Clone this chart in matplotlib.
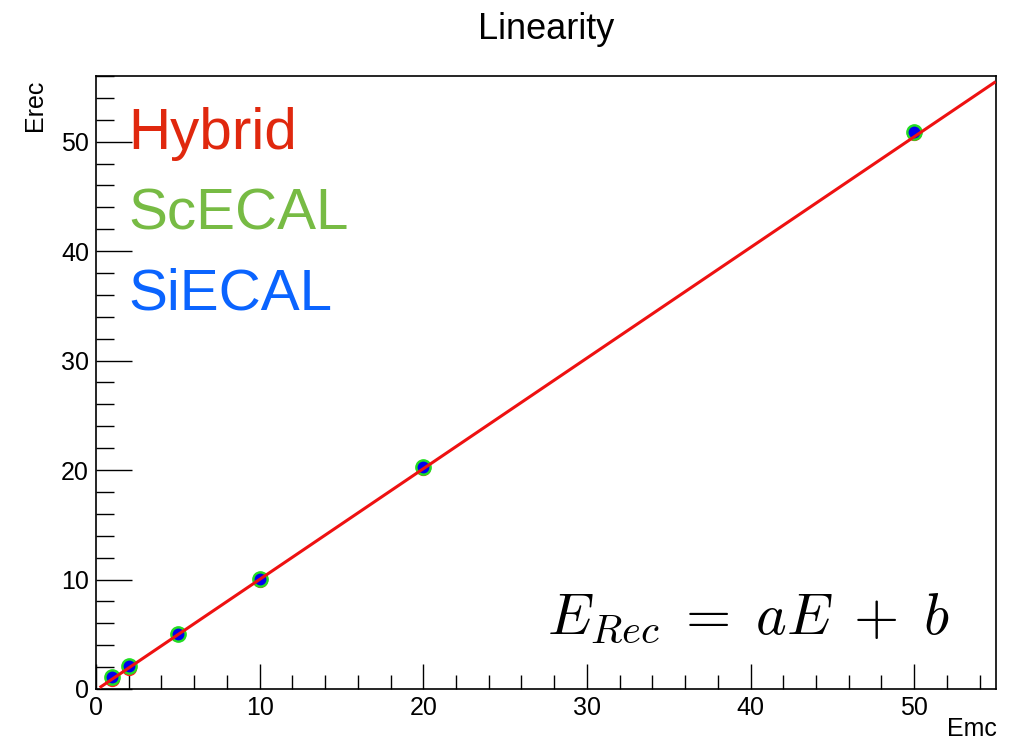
#
# linearity.py
# ------------
#

import numpy as np
import matplotlib
matplotlib.use("Agg")
import matplotlib.pyplot as plt
from matplotlib.ticker import MultipleLocator

emc = [1, 2, 5, 10, 20, 50]
erec_hybrid = [0.95, 1.95, 4.98, 10.0, 20.2, 50.8]
erec_scecal = [1.05, 2.1, 5.05, 10.05, 20.25, 50.85]
erec_siecal = [1.05, 2.08, 5.05, 10.05, 20.3, 50.9]

fit_a = 1.011
fit_b = -0.1
fit_range = [0.3, 54.9]

labels = ["Hybrid", "ScECAL", "SiECAL"]
colors = ["#e0280e", "#77bb44", "#0a64ff"]

plt.rcParams['font.family'] = ['Liberation Sans', 'DejaVu Sans']
plt.rcParams['mathtext.fontset'] = 'cm'

fig = plt.figure(figsize=(10.18, 7.43), dpi=100)
ax = fig.add_axes([0.0943, 0.0727, 0.8841, 0.825])

ax.plot(emc, erec_hybrid, 'o', color='#ff2020', ms=10, mec='#ff2020', zorder=2)
ax.plot(emc, erec_scecal, 'o', color='#22dd22', ms=11, mec='#22dd22', zorder=3)
ax.plot(emc, erec_siecal, 'o', color='#0000ee', ms=7.5, mec='#0000ee', zorder=4)

xf = np.array(fit_range)
ax.plot(xf, fit_a * xf + fit_b, color='#ee1111', lw=2.2, zorder=5)

ax.set_xlim(0, 55)
ax.set_ylim(0, 56)
ax.xaxis.set_major_locator(MultipleLocator(10))
ax.xaxis.set_minor_locator(MultipleLocator(2))
ax.yaxis.set_major_locator(MultipleLocator(10))
ax.yaxis.set_minor_locator(MultipleLocator(2))
ax.tick_params(axis='x', which='major', direction='in', length=18, width=1, labelsize=18, pad=5)
ax.tick_params(axis='x', which='minor', direction='in', length=10, width=1)
ax.tick_params(axis='y', which='major', direction='in', length=26, width=1, labelsize=18, pad=5)
ax.tick_params(axis='y', which='minor', direction='in', length=13, width=1)
for s in ax.spines.values():
    s.set_linewidth(1.2)

fig.text(0.537, 0.96, "Linearity", ha='center', va='center', fontsize=26)
fig.text(0.0345, 0.858, "Erec", rotation=90, ha='center', va='center', fontsize=18)
fig.text(0.979, 0.003, "Emc", ha='right', va='bottom', fontsize=18)

for i, (lab, c) in enumerate(zip(labels, colors)):
    ax.text(0.036, 0.905 - i * 0.131, lab, color=c, fontsize=42,
            transform=ax.transAxes, ha='left', va='center')

ax.text(0.949, 0.115, r"$E_{Rec}\;=\;aE\;+\;b$", fontsize=42,
        transform=ax.transAxes, ha='right', va='center')

plt.savefig("out.png", dpi=100)
